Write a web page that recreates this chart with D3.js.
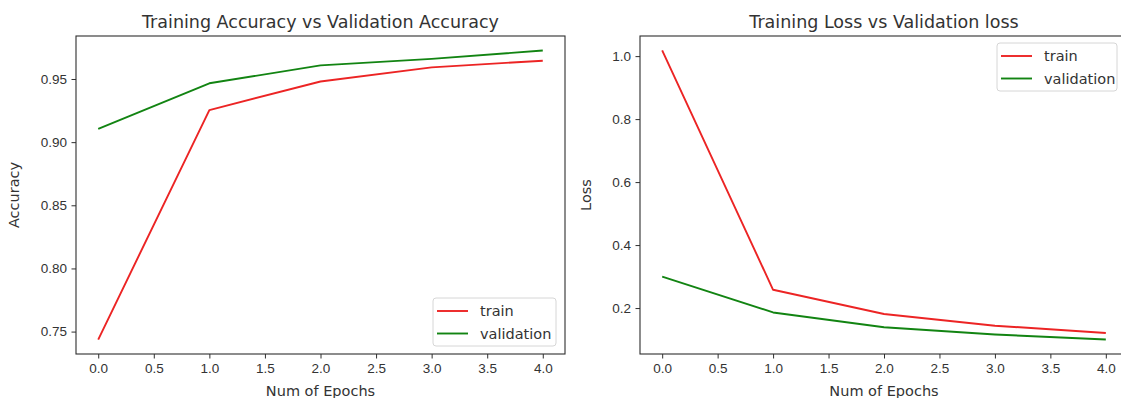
<!DOCTYPE html>
<html>
<head>
<meta charset="utf-8">
<script src="https://cdn.jsdelivr.net/npm/d3@7"></script>
<style>
  body { margin: 0; background: #fff; }
  svg { display: block; font-family: "DejaVu Sans", sans-serif; }
  .axis path, .axis line { stroke: #2e2e2e; }
  .axis text { fill: #333; font-size: 13.5px; }
  .label text { fill: #333; font-size: 14.5px; }
  .title { fill: #333; font-size: 17.5px; }
  .legend text { fill: #333; font-size: 14.5px; }
</style>
</head>
<body>
<svg></svg>
<script>
//values
var epochs = [0, 1, 2, 3, 4];
var trainAcc = [0.7437, 0.9254, 0.948, 0.9592, 0.9645];
var valAcc = [0.9106, 0.9466, 0.9608, 0.9659, 0.9726];
var trainLoss = [1.018, 0.258, 0.181, 0.144, 0.121];
var valLoss = [0.3, 0.186, 0.139, 0.116, 0.1];

var epochTicks = [0, 0.5, 1, 1.5, 2, 2.5, 3, 3.5, 4];
var accTicks = [0.75, 0.8, 0.85, 0.9, 0.95];
var lossTicks = [0.2, 0.4, 0.6, 0.8, 1.0];

var seriesNames = ["train", "validation"];
var seriesColors = ["#ec2424", "#128412"];

var makeTranslateString = function (x, y) {
  return "translate(" + x + "," + y + ")";
};

//matplotlib style 5% padding around the data
var paddedExtent = function (arrays) {
  var all = [].concat.apply([], arrays);
  var lo = d3.min(all);
  var hi = d3.max(all);
  var pad = (hi - lo) * 0.05;
  return [lo - pad, hi + pad];
};

var drawPanel = function (svg, panel) {
  var g = svg.append("g").attr("transform", makeTranslateString(panel.left, panel.top));

  var xScale = d3.scaleLinear().domain([-0.2, 4.2]).range([0, panel.width]);
  var yScale = d3
    .scaleLinear()
    .domain(paddedExtent(panel.series))
    .range([panel.height, 0]);

  var line = d3
    .line()
    .x(function (d, i) { return xScale(epochs[i]); })
    .y(function (d) { return yScale(d); });

  g.selectAll("path.series")
    .data(panel.series)
    .enter()
    .append("path")
    .attr("class", "series")
    .attr("d", line)
    .attr("fill", "none")
    .attr("stroke", function (d, i) { return seriesColors[i]; })
    .attr("stroke-width", 1.9)
    .attr("stroke-linejoin", "round");

  var xAxis = d3.axisBottom(xScale).tickValues(epochTicks)
    .tickFormat(d3.format(".1f")).tickSize(4.5).tickPadding(4.5);
  var yAxis = d3.axisLeft(yScale).tickValues(panel.ticks)
    .tickFormat(d3.format(panel.fmt)).tickSize(4.5).tickPadding(4.5);

  g.append("g").attr("class", "axis")
    .attr("transform", makeTranslateString(0, panel.height))
    .call(xAxis)
    .call(function (a) { a.select(".domain").remove(); });
  g.append("g").attr("class", "axis")
    .call(yAxis)
    .call(function (a) { a.select(".domain").remove(); });

  //frame
  g.append("rect")
    .attr("width", panel.width)
    .attr("height", panel.height)
    .attr("fill", "none")
    .attr("stroke", "#2e2e2e")
    .attr("stroke-width", 1.1);

  g.append("text")
    .attr("class", "title")
    .attr("text-anchor", "middle")
    .attr("x", panel.width / 2)
    .attr("y", -8)
    .text(panel.title);

  var xLabel = g.append("g").attr("class", "label")
    .attr("transform", makeTranslateString(panel.width / 2, panel.height + 42));
  xLabel.append("text").attr("text-anchor", "middle").text("Num of Epochs");

  var yLabel = g.append("g").attr("class", "label")
    .attr("transform", makeTranslateString(panel.yLabelX, panel.height / 2) + " rotate(-90)");
  yLabel.append("text").attr("text-anchor", "middle").text(panel.yLabel);

  //legend
  var legend = g.append("g").attr("class", "legend")
    .attr("transform", makeTranslateString(panel.legend.x, panel.legend.y));
  legend.append("rect")
    .attr("width", panel.legend.w)
    .attr("height", 48)
    .attr("rx", 3)
    .attr("fill", "#fff")
    .attr("fill-opacity", 0.8)
    .attr("stroke", "#d6d6d6");
  var entries = legend.selectAll("g.entry")
    .data(seriesNames)
    .enter()
    .append("g")
    .attr("class", "entry")
    .attr("transform", function (d, i) { return makeTranslateString(4, 13 + i * 22.5); });
  entries.append("line")
    .attr("x1", 0).attr("x2", 31)
    .attr("stroke", function (d, i) { return seriesColors[i]; })
    .attr("stroke-width", 1.9);
  entries.append("text")
    .attr("x", 43)
    .attr("y", 5)
    .text(function (d) { return d; });
};

var initGraph = function () {
  var screen = { width: 1121, height: 398 };
  var svg = d3.select("svg").attr("width", screen.width).attr("height", screen.height);

  drawPanel(svg, {
    left: 76, top: 36, width: 489, height: 318,
    series: [trainAcc, valAcc], ticks: accTicks, fmt: ".2f",
    title: "Training Accuracy vs Validation Accuracy",
    yLabel: "Accuracy", yLabelX: -57,
    legend: { x: 357, y: 262, w: 123 }
  });

  drawPanel(svg, {
    left: 640, top: 36, width: 488, height: 318,
    series: [trainLoss, valLoss], ticks: lossTicks, fmt: ".1f",
    title: "Training Loss vs Validation loss",
    yLabel: "Loss", yLabelX: -49,
    legend: { x: 357, y: 7, w: 120 }
  });
};

initGraph();
</script>
</body>
</html>
